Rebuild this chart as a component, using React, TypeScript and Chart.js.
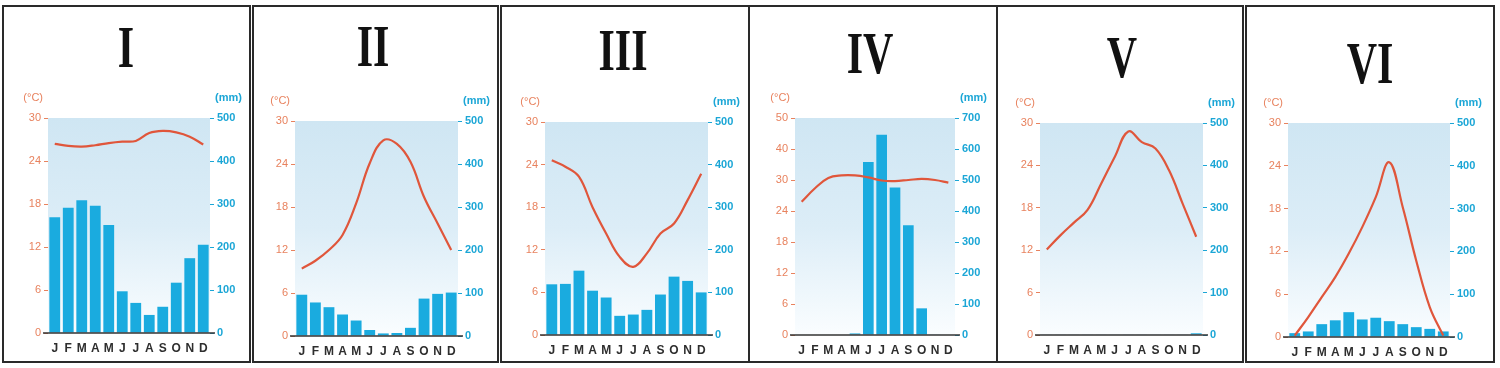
import React, { useEffect, useRef } from 'react';
import { Chart, registerables } from 'chart.js';

Chart.register(...registerables);

const months = ['J', 'F', 'M', 'A', 'M', 'J', 'J', 'A', 'S', 'O', 'N', 'D'];
const titles = ['I', 'II', 'III', 'IV', 'V', 'VI'];

const tempI = [26.4, 26.1, 26.0, 26.2, 26.5, 26.7, 26.8, 27.9, 28.2, 28.0, 27.4, 26.3];
const precipI = [269, 291, 309, 296, 251, 97, 70, 42, 61, 117, 174, 205];

const tempII = [9.4, 10.5, 12.0, 14.1, 18.5, 24.1, 27.3, 26.8, 24.3, 19.4, 15.7, 12.0];
const precipII = [96, 78, 67, 50, 36, 14, 6, 7, 19, 87, 98, 101];

const tempIII = [24.6, 23.7, 22.3, 18.0, 14.3, 11.0, 9.6, 11.5, 14.3, 15.7, 19.0, 22.7];
const precipIII = [119, 120, 151, 104, 88, 45, 48, 59, 95, 137, 127, 100];

const tempIV = [25.8, 28.4, 30.4, 30.9, 30.9, 30.5, 29.9, 29.8, 30.0, 30.2, 30.0, 29.5];
const precipIV = [0, 0, 0, 0, 5, 558, 646, 476, 354, 86, 2, 0];

const tempV = [12.1, 14.1, 15.9, 17.7, 21.4, 25.2, 28.8, 27.3, 26.4, 23.3, 18.6, 13.9];
const precipV = [1, 1, 1, 1, 1, 1, 1, 1, 1, 1, 1, 4];

const tempVI = [0.2, 2.8, 5.6, 8.4, 11.7, 15.4, 19.6, 24.5, 18.2, 10.7, 4.2, 0.2];
const precipVI = [9, 13, 30, 39, 58, 41, 45, 37, 30, 23, 19, 13];

const tempTickLabels = ['0', '6', '12', '18', '24', '30'];
const tempTickLabelsIV = ['0', '6', '12', '18', '24', '30', '40', '50'];
const precipTickLabels = ['0', '100', '200', '300', '400', '500'];
const precipTickLabelsIV = ['0', '100', '200', '300', '400', '500', '600', '700'];

const TEMP_COLOR = '#e8825e';
const PRECIP_COLOR = '#1ba6d6';
const LINE_COLOR = '#e0563b';
const BAR_COLOR = '#1aabdf';
const BORDER_COLOR = '#2a2a2a';

const BOX_TOP = 5;
const BOX_HEIGHT = 358;
const BORDER = 2;

type Panel = {
  title: string;
  temp: number[];
  precip: number[];
  tempMax: number;
  precipMax: number;
  tTicks: string[];
  pTicks: string[];
  left: number;
  width: number;
  plot: { l: number; r: number; t: number; b: number };
  titleAt: { x: number; y: number };
};

const panels: Panel[] = [
  { title: titles[0], temp: tempI, precip: precipI, tempMax: 30, precipMax: 500, tTicks: tempTickLabels, pTicks: precipTickLabels,
    left: 2, width: 249, plot: { l: 48, r: 210, t: 118, b: 333 }, titleAt: { x: 126, y: 47 } },
  { title: titles[1], temp: tempII, precip: precipII, tempMax: 30, precipMax: 500, tTicks: tempTickLabels, pTicks: precipTickLabels,
    left: 252, width: 247, plot: { l: 295, r: 458, t: 121, b: 336 }, titleAt: { x: 373, y: 46 } },
  { title: titles[2], temp: tempIII, precip: precipIII, tempMax: 30, precipMax: 500, tTicks: tempTickLabels, pTicks: precipTickLabels,
    left: 500, width: 250, plot: { l: 545, r: 708, t: 122, b: 335 }, titleAt: { x: 623, y: 50 } },
  { title: titles[3], temp: tempIV, precip: precipIV, tempMax: 42, precipMax: 700, tTicks: tempTickLabelsIV, pTicks: precipTickLabelsIV,
    left: 748, width: 250, plot: { l: 795, r: 955, t: 118, b: 335 }, titleAt: { x: 870, y: 53 } },
  { title: titles[4], temp: tempV, precip: precipV, tempMax: 30, precipMax: 500, tTicks: tempTickLabels, pTicks: precipTickLabels,
    left: 996, width: 248, plot: { l: 1040, r: 1203, t: 123, b: 335 }, titleAt: { x: 1122, y: 57 } },
  { title: titles[5], temp: tempVI, precip: precipVI, tempMax: 30, precipMax: 500, tTicks: tempTickLabels, pTicks: precipTickLabels,
    left: 1245, width: 250, plot: { l: 1288, r: 1450, t: 123, b: 337 }, titleAt: { x: 1370, y: 63 } },
];

function ClimatePanel({ p }: { p: Panel }) {
  const ref = useRef<HTMLCanvasElement | null>(null);
  const cw = p.width - BORDER * 2;
  const ch = BOX_HEIGHT - BORDER * 2;
  const ox = p.left + BORDER;
  const oy = BOX_TOP + BORDER;

  useEffect(() => {
    const canvas = ref.current;
    if (!canvas) return;
    const decor = {
      id: 'decor',
      beforeDraw(chart: any) {
        const { ctx, chartArea } = chart;
        const g = ctx.createLinearGradient(0, chartArea.top, 0, chartArea.bottom);
        g.addColorStop(0, '#cfe6f3');
        g.addColorStop(0.5, '#dcedf7');
        g.addColorStop(1, '#fafdff');
        ctx.save();
        ctx.fillStyle = g;
        ctx.fillRect(chartArea.left, chartArea.top, chartArea.right - chartArea.left, chartArea.bottom - chartArea.top);
        ctx.restore();
      },
      afterDatasetsDraw(chart: any) {
        const { ctx, chartArea } = chart;
        const y0 = chart.scales.yT.getPixelForValue(0);
        ctx.save();
        ctx.strokeStyle = '#333333';
        ctx.lineWidth = 1.5;
        ctx.beginPath();
        ctx.moveTo(chartArea.left - 5, y0);
        ctx.lineTo(chartArea.right + 5, y0);
        ctx.stroke();
        ctx.restore();
      },
      afterDraw(chart: any) {
        const { ctx, chartArea } = chart;
        ctx.save();
        ctx.textBaseline = 'middle';
        ctx.font = '11px "Liberation Sans", Arial, sans-serif';
        ctx.fillStyle = TEMP_COLOR;
        ctx.textAlign = 'right';
        ctx.fillText('(°C)', chartArea.left - 5, chartArea.top - 20);
        ctx.font = 'bold 11px "Liberation Sans", Arial, sans-serif';
        ctx.fillStyle = PRECIP_COLOR;
        ctx.textAlign = 'left';
        ctx.fillText('(mm)', chartArea.right + 5, chartArea.top - 20);
        // title
        const size = 60;
        ctx.font = `bold ${size}px "Liberation Serif", "Times New Roman", serif`;
        ctx.fillStyle = '#111111';
        ctx.textAlign = 'center';
        ctx.textBaseline = 'alphabetic';
        ctx.translate(p.titleAt.x - ox, p.titleAt.y - oy + size * 0.662 / 2);
        ctx.scale(0.7, 1);
        ctx.fillText(p.title, 0, 0);
        ctx.restore();
      },
    };

    const chart = new Chart(canvas, {
      type: 'bar',
      data: {
        labels: months,
        datasets: [
          {
            type: 'line',
            data: p.temp,
            yAxisID: 'yT',
            borderColor: LINE_COLOR,
            borderWidth: 2.2,
            pointRadius: 0,
            tension: 0.4,
            order: 0,
          } as any,
          {
            type: 'bar',
            data: p.precip,
            yAxisID: 'yP',
            backgroundColor: BAR_COLOR,
            barPercentage: 0.8,
            categoryPercentage: 1,
            order: 1,
          } as any,
        ],
      },
      options: {
        responsive: false,
        animation: false,
        layout: { padding: { top: p.plot.t - oy, left: 0, right: 0, bottom: 0 } },
        plugins: { legend: { display: false }, tooltip: { enabled: false }, title: { display: false } },
        scales: {
          x: {
            grid: { display: false, drawTicks: false },
            border: { display: false },
            ticks: {
              color: '#2e2e2e',
              font: { family: '"Liberation Sans", Arial, sans-serif', weight: 'bold', size: 12 },
              padding: 8,
              autoSkip: false,
              maxRotation: 0,
            },
            afterFit: (s: any) => { s.height = ch - (p.plot.b - oy); },
          },
          yT: {
            position: 'left',
            min: 0,
            max: p.tempMax,
            ticks: {
              stepSize: 6,
              callback: (_v: any, i: number) => p.tTicks[i],
              color: TEMP_COLOR,
              font: { family: '"Liberation Sans", Arial, sans-serif', size: 11 },
              padding: 3,
            },
            grid: { drawOnChartArea: false, tickLength: 4, color: TEMP_COLOR },
            border: { display: false },
            afterFit: (s: any) => { s.width = p.plot.l - ox; },
          },
          yP: {
            position: 'right',
            min: 0,
            max: p.precipMax,
            ticks: {
              stepSize: 100,
              callback: (_v: any, i: number) => p.pTicks[i],
              color: PRECIP_COLOR,
              font: { family: '"Liberation Sans", Arial, sans-serif', size: 11, weight: 'bold' },
              padding: 3,
            },
            grid: { drawOnChartArea: false, tickLength: 4, color: PRECIP_COLOR },
            border: { display: false },
            afterFit: (s: any) => { s.width = cw - (p.plot.r - ox); },
          },
        },
      } as any,
      plugins: [decor],
    });
    return () => chart.destroy();
  }, [p]);

  return (
    <div
      style={{
        position: 'absolute',
        left: p.left,
        top: BOX_TOP,
        width: p.width,
        height: BOX_HEIGHT,
        boxSizing: 'border-box',
        border: `${BORDER}px solid ${BORDER_COLOR}`,
        background: '#ffffff',
      }}
    >
      <canvas ref={ref} width={cw} height={ch} style={{ display: 'block', width: cw, height: ch }} />
    </div>
  );
}

export default function App() {
  return (
    <div style={{ position: 'absolute', left: 0, top: 0, width: 1500, height: 368, background: '#ffffff', overflow: 'hidden' }}>
      {panels.map((p, i) => (
        <ClimatePanel key={i} p={p} />
      ))}
    </div>
  );
}
